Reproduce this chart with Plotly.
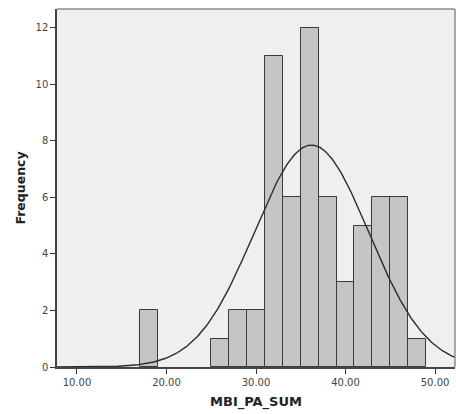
import numpy as np
import plotly.graph_objects as go

# Histogram of MBI_PA_SUM: bin left edges (width 2) and counts
bin_starts = [17, 25, 27, 29, 31, 33, 35, 37, 39, 41, 43, 45, 47]
counts = [2, 1, 2, 2, 11, 6, 12, 6, 3, 5, 6, 6, 1]
bin_width = 2.0

# Normal curve parameters
mean_val = 36.2
sd_val = 6.4
n_total = sum(counts)

x_ticks = [10, 20, 30, 40, 50]
x_tick_text = ["10.00", "20.00", "30.00", "40.00", "50.00"]
y_ticks = [0, 2, 4, 6, 8, 10, 12]

centers = [s + bin_width / 2 for s in bin_starts]

xs = np.linspace(7.77, 52.23, 400)
ys = n_total * bin_width / (sd_val * np.sqrt(2 * np.pi)) * np.exp(-0.5 * ((xs - mean_val) / sd_val) ** 2)

fig = go.Figure()
fig.add_trace(go.Bar(
    x=centers, y=counts, width=bin_width,
    marker=dict(color="#c4c5c7", line=dict(color="#3a3a3a", width=1)),
    hoverinfo="x+y",
))
fig.add_trace(go.Scatter(
    x=xs, y=ys, mode="lines",
    line=dict(color="#2b2b2b", width=1.4),
    hoverinfo="skip",
))

font_family = "DejaVu Sans, Verdana, sans-serif"

fig.update_layout(
    width=456, height=414,
    margin=dict(l=57, r=1, t=9, b=47),
    paper_bgcolor="white",
    plot_bgcolor="#eeefef",
    showlegend=False,
    bargap=0,
    font=dict(family=font_family, size=10, color="#333333"),
    xaxis=dict(
        range=[7.77, 52.23],
        tickvals=x_ticks, ticktext=x_tick_text,
        ticks="outside", ticklen=5, tickwidth=1.2, tickcolor="#333333",
        showgrid=False, zeroline=False,
        showline=True, linecolor="#444444", linewidth=1.5,
        tickfont=dict(size=10, color="#444444"),
        title=dict(text="<b>MBI_PA_SUM</b>", font=dict(size=13, color="#222222"), standoff=10),
    ),
    yaxis=dict(
        range=[0, 12.67],
        tickvals=y_ticks,
        ticks="outside", ticklen=5, tickwidth=1.2, tickcolor="#333333",
        showgrid=False, zeroline=False,
        showline=True, linecolor="#444444", linewidth=1.5,
        tickfont=dict(size=10, color="#444444"),
        title=dict(text="<b>Frequency</b>", font=dict(size=12.5, color="#222222"), standoff=7),
    ),
)

# light frame along the top and right of the plot area
fig.add_shape(type="line", xref="paper", yref="paper", x0=0, x1=1, y0=1, y1=1,
              line=dict(color="#8c8c8c", width=1.5))
fig.add_shape(type="line", xref="paper", yref="paper", x0=1, x1=1, y0=0, y1=1,
              line=dict(color="#8c8c8c", width=1.5))

fig.write_html("out.html")
